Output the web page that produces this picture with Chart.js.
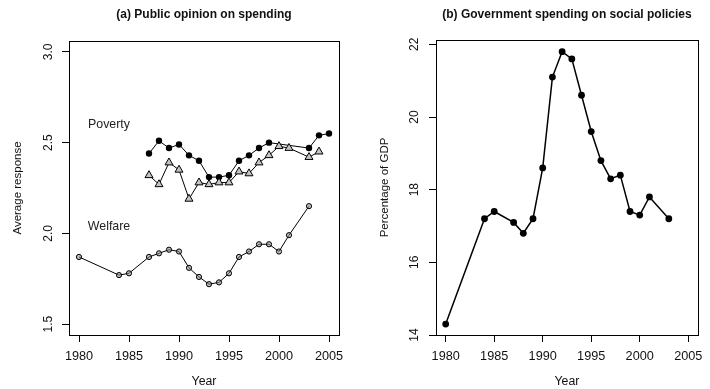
<!DOCTYPE html>
<html><head><meta charset="utf-8">
<script src="https://cdn.jsdelivr.net/npm/chart.js@4"></script>
<style>
html,body{margin:0;padding:0;background:#fff;}
#wrap{position:relative;width:710px;height:389px;overflow:hidden;}
canvas{position:absolute;top:0;}
</style></head><body>
<div id="wrap">
<canvas id="a" width="355" height="389" style="left:0"></canvas>
<canvas id="b" width="355" height="389" style="left:355px"></canvas>
</div>
<script>
// ---- Panel (a): public opinion on spending ----
const povertyYears = [1987,1988,1989,1990,1991,1992,1993,1994,1995,1996,1997,1998,1999,2003,2004,2005];
const povertyValues = [2.44,2.51,2.47,2.49,2.43,2.40,2.31,2.31,2.32,2.40,2.43,2.47,2.50,2.47,2.54,2.55];
const poverty2Years = [1987,1988,1989,1990,1991,1992,1993,1994,1995,1996,1997,1998,1999,2000,2001,2003,2004];
const poverty2Values = [2.32,2.27,2.39,2.35,2.19,2.28,2.27,2.28,2.28,2.34,2.33,2.39,2.43,2.48,2.47,2.42,2.45];
const welfareYears = [1980,1984,1985,1987,1988,1989,1990,1991,1992,1993,1994,1995,1996,1997,1998,1999,2000,2001,2003];
const welfareValues = [1.87,1.77,1.78,1.87,1.89,1.91,1.90,1.81,1.76,1.72,1.73,1.78,1.87,1.90,1.94,1.94,1.90,1.99,2.15];
const yearTicks = [1980,1985,1990,1995,2000,2005];
const opinionTicks = [1.5,2.0,2.5,3.0];
const opinionLabels = [{x:1983, y:2.6, text:'Poverty'},{x:1983, y:2.04, text:'Welfare'}];
// ---- Panel (b): government spending ----
const spendYears = [1980,1984,1985,1987,1988,1989,1990,1991,1992,1993,1994,1995,1996,1997,1998,1999,2000,2001,2003];
const spendValues = [14.3,17.2,17.4,17.1,16.8,17.2,18.6,21.1,21.8,21.6,20.6,19.6,18.8,18.3,18.4,17.4,17.3,17.8,17.2];
const spendTicks = [14,16,18,20,22];

const FONT = "'Liberation Sans', Arial, sans-serif";
const pts = (xs, ys) => xs.map((x, i) => ({x, y: ys[i]}));

const boxPlugin = {
  id: 'box',
  afterDraw(chart) {
    const {ctx, chartArea: a} = chart;
    ctx.save();
    ctx.strokeStyle = '#000';
    ctx.lineWidth = 1;
    ctx.strokeRect(Math.round(a.left) + 0.5, Math.round(a.top) + 0.5, Math.round(a.right - a.left), Math.round(a.bottom - a.top));
    ctx.restore();
  }
};

const textPlugin = {
  id: 'txt',
  afterDatasetsDraw(chart, args, opts) {
    if (!opts.items) return;
    const {ctx, scales} = chart;
    ctx.save();
    ctx.font = '12.4px ' + FONT;
    ctx.fillStyle = '#222';
    ctx.textAlign = 'center';
    ctx.textBaseline = 'middle';
    opts.items.forEach(it => ctx.fillText(it.text, scales.x.getPixelForValue(it.x), scales.y.getPixelForValue(it.y)));
    ctx.restore();
  }
};

function makeOptions(cfg) {
  return {
    responsive: false,
    animation: false,
    layout: {padding: {left: 0, right: cfg.padRight, top: 0, bottom: 0}},
    plugins: {
      legend: {display: false},
      tooltip: {enabled: false},
      title: {
        display: true, text: cfg.title, fullSize: false, color: '#111',
        font: {family: FONT, size: 12, weight: 'bold'},
        padding: {top: 7.8, bottom: cfg.titleBottom}
      },
      txt: {items: cfg.labels}
    },
    scales: {
      x: {
        type: 'linear', min: 1979, max: 2006,
        afterBuildTicks: s => { s.ticks = yearTicks.map(v => ({value: v})); },
        afterFit: s => { s.height = 54; },
        grid: {drawOnChartArea: false, drawTicks: true, tickLength: 7, color: '#000'},
        border: {display: false},
        ticks: {color: '#111', font: {family: FONT, size: 12.7}, padding: 7.2, maxRotation: 0, minRotation: 0, callback: v => String(v)},
        title: {display: true, text: 'Year', color: '#111', font: {family: FONT, size: 12.3}, padding: {top: 0, bottom: 0}}
      },
      y: {
        type: 'linear', min: cfg.yMin, max: cfg.yMax,
        afterBuildTicks: s => { s.ticks = cfg.yTicks.map(v => ({value: v})); },
        afterFit: s => { s.width = cfg.yWidth; },
        grid: {drawOnChartArea: false, drawTicks: true, tickLength: 7, color: '#000'},
        border: {display: false},
        ticks: {color: '#111', font: {family: FONT, size: 12}, padding: cfg.tickPad, minRotation: 90, maxRotation: 90, crossAlign: 'center', callback: cfg.fmt},
        title: {display: true, text: cfg.yTitle, color: '#111', font: {family: FONT, size: 11.5}, padding: {top: cfg.yTitlePad, bottom: 0}}
      }
    }
  };
}

new Chart(document.getElementById('a'), {
  type: 'scatter',
  data: {datasets: [
    {data: pts(welfareYears, welfareValues), showLine: true, borderColor: '#000', borderWidth: 1,
     pointRadius: 2.6, pointBorderWidth: 1, pointBorderColor: '#000', pointBackgroundColor: 'rgba(140,140,140,0.55)'},
    {data: pts(poverty2Years, poverty2Values), showLine: true, borderColor: '#000', borderWidth: 1,
     pointStyle: 'triangle', pointRadius: 4.6, pointBorderWidth: 1, pointBorderColor: '#000', pointBackgroundColor: '#c4c4c4'},
    {data: pts(povertyYears, povertyValues), showLine: true, borderColor: '#000', borderWidth: 1,
     pointRadius: 3.2, pointBorderWidth: 0, pointBackgroundColor: '#000'}
  ]},
  options: makeOptions({
    title: '(a) Public opinion on spending', titleBottom: 18.8, padRight: 16,
    yMin: 1.44, yMax: 3.06, yTicks: opinionTicks, yWidth: 69, tickPad: 4.6,
    fmt: v => Number(v).toFixed(1), yTitle: 'Average response', yTitlePad: 11.1, labels: opinionLabels
  }),
  plugins: [boxPlugin, textPlugin]
});

new Chart(document.getElementById('b'), {
  type: 'scatter',
  data: {datasets: [
    {data: pts(spendYears, spendValues), showLine: true, borderColor: '#000', borderWidth: 1.5,
     pointRadius: 3.4, pointBorderWidth: 0, pointBackgroundColor: '#000'}
  ]},
  options: makeOptions({
    title: '(b) Government spending on social policies', titleBottom: 17.8, padRight: 4,
    yMin: 14, yMax: 22.12, yTicks: spendTicks, yWidth: 81, tickPad: 7.3,
    fmt: v => String(v), yTitle: 'Percentage of GDP', yTitlePad: 23.1, labels: null
  }),
  plugins: [boxPlugin, textPlugin]
});
</script>
</body></html>
